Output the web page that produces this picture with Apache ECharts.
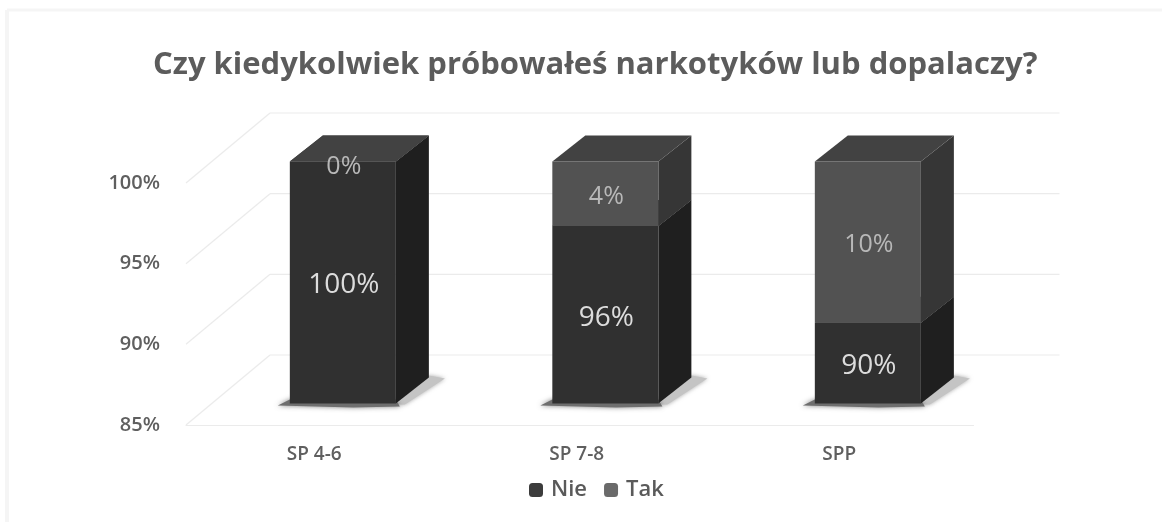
<!DOCTYPE html>
<html><head><meta charset="utf-8">
<style>html,body{margin:0;padding:0;background:#fff}#c{width:1162px;height:522px;filter:blur(0.6px)}</style>
<script src="https://cdn.jsdelivr.net/npm/echarts@6/dist/echarts.min.js"></script>
</head><body><div id="c"></div>
<script>
var categories = ['SP 4-6', 'SP 7-8', 'SPP'];
var nie = [100, 96, 90];
var tak = [0, 4, 10];
var ticks = [85, 90, 95, 100];

// projection offsets of the fake-3D scene
var WALL = [84, -70], FRONT = [25.6, -21.5], DEPTH = [33, -26];
function stackData(own, base) {
  return categories.map(function (c, i) { return [i, base ? base[i] : 85, (base ? base[i] : 0) + own[i], own[i]]; });
}
function poly(points, fill, extra) {
  return Object.assign({ type: 'polygon', shape: { points: points }, style: { fill: fill } }, extra || {});
}
function barRender(colors, isBase) {
  return function (params, api) {
    var i = api.value(0), w = api.size([1, 0])[0] * 0.404;
    var a = api.coord([i, api.value(1)]), b = api.coord([i, api.value(2)]);
    var x0 = a[0] + FRONT[0] - w / 2, x1 = x0 + w, yb = a[1] + FRONT[1], yt = b[1] + FRONT[1];
    var dx = DEPTH[0], dy = DEPTH[1], kids = [];
    if (isBase) {
      kids.push(poly([[x1, yb + 1], [x1 + 9, yb + 1], [x1 + dx + 16, yb + dy + 1], [x1 + dx, yb + dy - 2]], '#c4c4c4',
        { style: { fill: '#c4c4c4', shadowBlur: 4, shadowColor: 'rgba(130,130,130,0.7)' } }));
      kids.push(poly([[x0 - 12, yb + 2], [x0 + w * 0.6, yb + 4], [x1 + 4, yb + 3], [x1, yb - 4], [x0, yb - 4]], '#6e6e6e',
        { style: { fill: '#6e6e6e', shadowBlur: 5, shadowColor: 'rgba(100,100,100,0.8)' } }));
    }
    kids.push(poly([[x1, yb], [x1 + dx, yb + dy], [x1 + dx, yt + dy], [x1, yt]], colors.side));
    kids.push({ type: 'rect', shape: { x: x0, y: yt, width: w, height: yb - yt }, style: { fill: colors.front } });
    kids.push(poly([[x0, yt], [x0 + dx, yt + dy], [x1 + dx, yt + dy], [x1, yt]], colors.top));
    kids.push({
      type: 'text', x: (x0 + x1) / 2 + 1, y: Math.max((yb + yt) / 2, yt + 2) + 3,
      style: { text: api.value(3) + '%', fill: colors.label, font: colors.font, textAlign: 'center', textVerticalAlign: 'middle' }
    });
    return { type: 'group', children: kids };
  };
}
var wallRender = function (params, api) {
  var p = api.coord([0, api.value(0)]), rect = params.coordSys;
  var xl = rect.x, xr = rect.x + rect.width + WALL[0] + 2, yb = p[1] + WALL[1];
  var st = { stroke: '#ebebeb', lineWidth: 1.2 };
  return { type: 'group', children: [
    { type: 'line', shape: { x1: xl, y1: p[1], x2: xl + WALL[0], y2: yb }, style: st },
    { type: 'line', shape: { x1: xl + WALL[0], y1: yb, x2: xr, y2: yb }, style: st }
  ] };
};
var font = '"Open Sans", sans-serif';
var chart = echarts.init(document.getElementById('c'), null, { renderer: 'canvas' });
chart.setOption({
  animation: false,
  backgroundColor: '#ffffff',
  graphic: [
    { type: 'line', silent: true, shape: { x1: 7, y1: 10, x2: 1162, y2: 10 }, style: { stroke: '#f5f5f5', lineWidth: 3 } },
    { type: 'line', silent: true, shape: { x1: 7, y1: 10, x2: 7, y2: 522 }, style: { stroke: '#f5f5f5', lineWidth: 4 } }
  ],
  title: { text: 'Czy kiedykolwiek próbowałeś narkotyków lub dopalaczy?', left: 148, top: 45,
    textStyle: { fontFamily: font, fontWeight: 'bold', fontSize: 31, color: '#5c5c5c' } },
  legend: { data: ['Nie', 'Tak'], left: 524, top: 474, itemWidth: 14, itemHeight: 14, itemGap: 17, icon: 'roundRect',
    textStyle: { fontFamily: font, fontSize: 22, fontWeight: 600, color: '#5a5a5a', padding: [0, 0, 0, 3] } },
  grid: { left: 186, right: 188.5, top: 183, bottom: 97 },
  xAxis: { type: 'category', data: categories,
    axisLine: { lineStyle: { color: '#ebebeb', width: 1.2 } }, axisTick: { show: false },
    axisLabel: { margin: 20, padding: [0, 6, 0, 0], fontFamily: font, fontSize: 19, fontWeight: 600, color: '#5f5f5f' } },
  yAxis: { type: 'value', min: 85, max: 100, interval: 5, splitLine: { show: false }, axisLine: { show: false }, axisTick: { show: false },
    axisLabel: { margin: 26, formatter: '{value}%', fontFamily: font, fontSize: 20, fontWeight: 600, color: '#5f5f5f' } },
  series: [
    { type: 'custom', name: 'wall', silent: true, clip: false, z: 1, data: ticks.map(function (t) { return [t]; }),
      encode: { y: 0 }, renderItem: wallRender },
    { type: 'custom', name: 'Nie', clip: false, z: 2, itemStyle: { color: '#3c3c3c' }, data: stackData(nie),
      encode: { x: 0, y: 2 },
      renderItem: barRender({ front: '#303030', side: '#1f1f1f', top: '#3a3a3a', label: '#dcdcdc', font: '28px ' + font }, true) },
    { type: 'custom', name: 'Tak', clip: false, z: 3, itemStyle: { color: '#6a6a6a' }, data: stackData(tak, nie),
      encode: { x: 0, y: 2 },
      renderItem: barRender({ front: '#525252', side: '#363636', top: '#424242', label: '#b8b8b8', font: '25px ' + font }, false) }
  ]
});
</script></body></html>
